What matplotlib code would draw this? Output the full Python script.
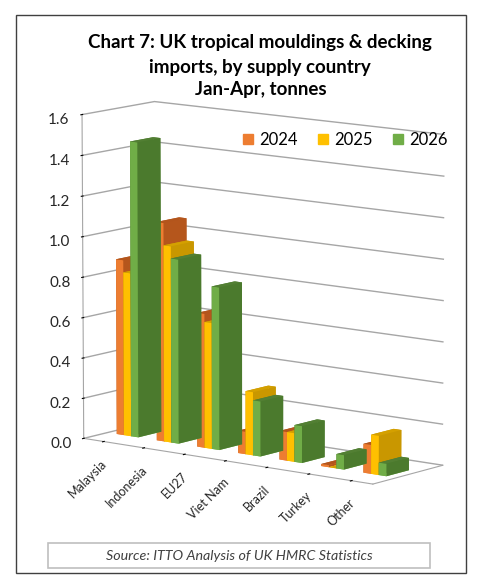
import matplotlib.pyplot as plt
import numpy as np
from matplotlib.patches import Rectangle

plt.rcParams['font.family'] = ['Lato', 'DejaVu Sans']

countries = ["Malaysia", "Indonesia", "EU27", "Viet Nam", "Brazil", "Turkey", "Other"]
years = ["2024", "2025", "2026"]
v2024 = [0.87, 1.08, 0.66, 0.11, 0.14, 0.01, 0.14]
v2025 = [0.81, 0.97, 0.62, 0.31, 0.14, 0.0, 0.19]
v2026 = [1.46, 0.91, 0.80, 0.27, 0.18, 0.07, 0.06]

front_col = ["#ED7D31", "#FFC000", "#70AD47"]
side_col = ["#B5561C", "#C99700", "#4B7A2D"]
top_col = ["#B3551C", "#D4A000", "#527F33"]

fig = plt.figure(figsize=(4.83, 5.88), dpi=100)
ax = fig.add_axes([0.028, 0.098, 1.0, 0.8], projection='3d')

bw = 0.18
y0, dep = 0.33, 0.32
series = [v2024, v2025, v2026]
for k, vals in enumerate(series):
    xs = np.arange(len(countries)) + 0.5 - 1.5 * bw + k * bw
    cols = []
    for v in vals:
        # faces: bottom, top, front, back, left, right
        cols += [front_col[k], top_col[k], front_col[k], side_col[k], side_col[k], side_col[k]]
    ax.bar3d(xs, np.full(len(xs), y0), np.zeros(len(xs)), bw, dep, vals,
             color=cols, shade=False, edgecolor='none', label=years[k])

ax.set_xlim(0, 7)
ax.set_ylim(0, 1)
ax.set_zlim(0, 1.6)
ax.set_box_aspect((365, 115, 330), zoom=1.05)
ax.view_init(elev=10, azim=-52)
ax.set_proj_type('persp', focal_length=2.4)

for a in (ax.xaxis, ax.yaxis, ax.zaxis):
    a.set_pane_color((1, 1, 1, 0))
    a.pane.set_edgecolor('#A6A6A6')
    a.line.set_color('#A6A6A6')
ax.grid(True)
ax.xaxis._axinfo['grid']['linewidth'] = 0
ax.yaxis._axinfo['grid']['linewidth'] = 0
ax.zaxis._axinfo['grid']['color'] = '#A6A6A6'
ax.zaxis._axinfo['grid']['linewidth'] = 1.0
ax.zaxis.set_ticks_position('lower')

zt = np.arange(0, 1.61, 0.2)
ax.set_zticks(zt)
ax.set_zticklabels([f"{t:.1f}" for t in zt], fontsize=11, color='#262626')
ax.set_yticks([])
ax.set_xticks(np.arange(len(countries)) + 0.5)
ax.set_xticklabels(countries, rotation=45, ha='right', va='top', rotation_mode='anchor',
                   fontsize=9, color='#262626')
ax.tick_params(axis='x', pad=0)

fig.text(0.539, 0.927, "Chart 7: UK tropical mouldings & decking", ha='center', va='center',
         fontsize=13.5, fontweight='bold')
fig.text(0.539, 0.886, "imports, by supply country", ha='center', va='center',
         fontsize=13.5, fontweight='bold')
fig.text(0.539, 0.847, "Jan-Apr, tonnes", ha='center', va='center',
         fontsize=13.5, fontweight='bold')

handles = [Rectangle((0, 0), 1, 1, color=c) for c in front_col]
fig.legend(handles, years, loc='center', bbox_to_anchor=(0.715, 0.762), ncol=3, frameon=False,
           fontsize=12, handlelength=0.6, handleheight=0.6, columnspacing=1.2, handletextpad=0.4)

fig.patches.append(Rectangle((16 / 483, 1 - 573 / 588), 450 / 483, 558 / 588, transform=fig.transFigure,
                             fill=False, edgecolor='#404040', linewidth=1))
fig.patches.append(Rectangle((48 / 483, 1 - 568 / 588), 382 / 483, 25 / 588, transform=fig.transFigure,
                             fill=False, edgecolor='#BFBFBF', linewidth=1.2))
fig.text(239 / 483, 1 - 556 / 588, "Source: ITTO Analysis of UK HMRC Statistics", ha='center', va='center',
         fontsize=10.3, style='italic', color='#404040')

plt.savefig("out.png", dpi=100)
